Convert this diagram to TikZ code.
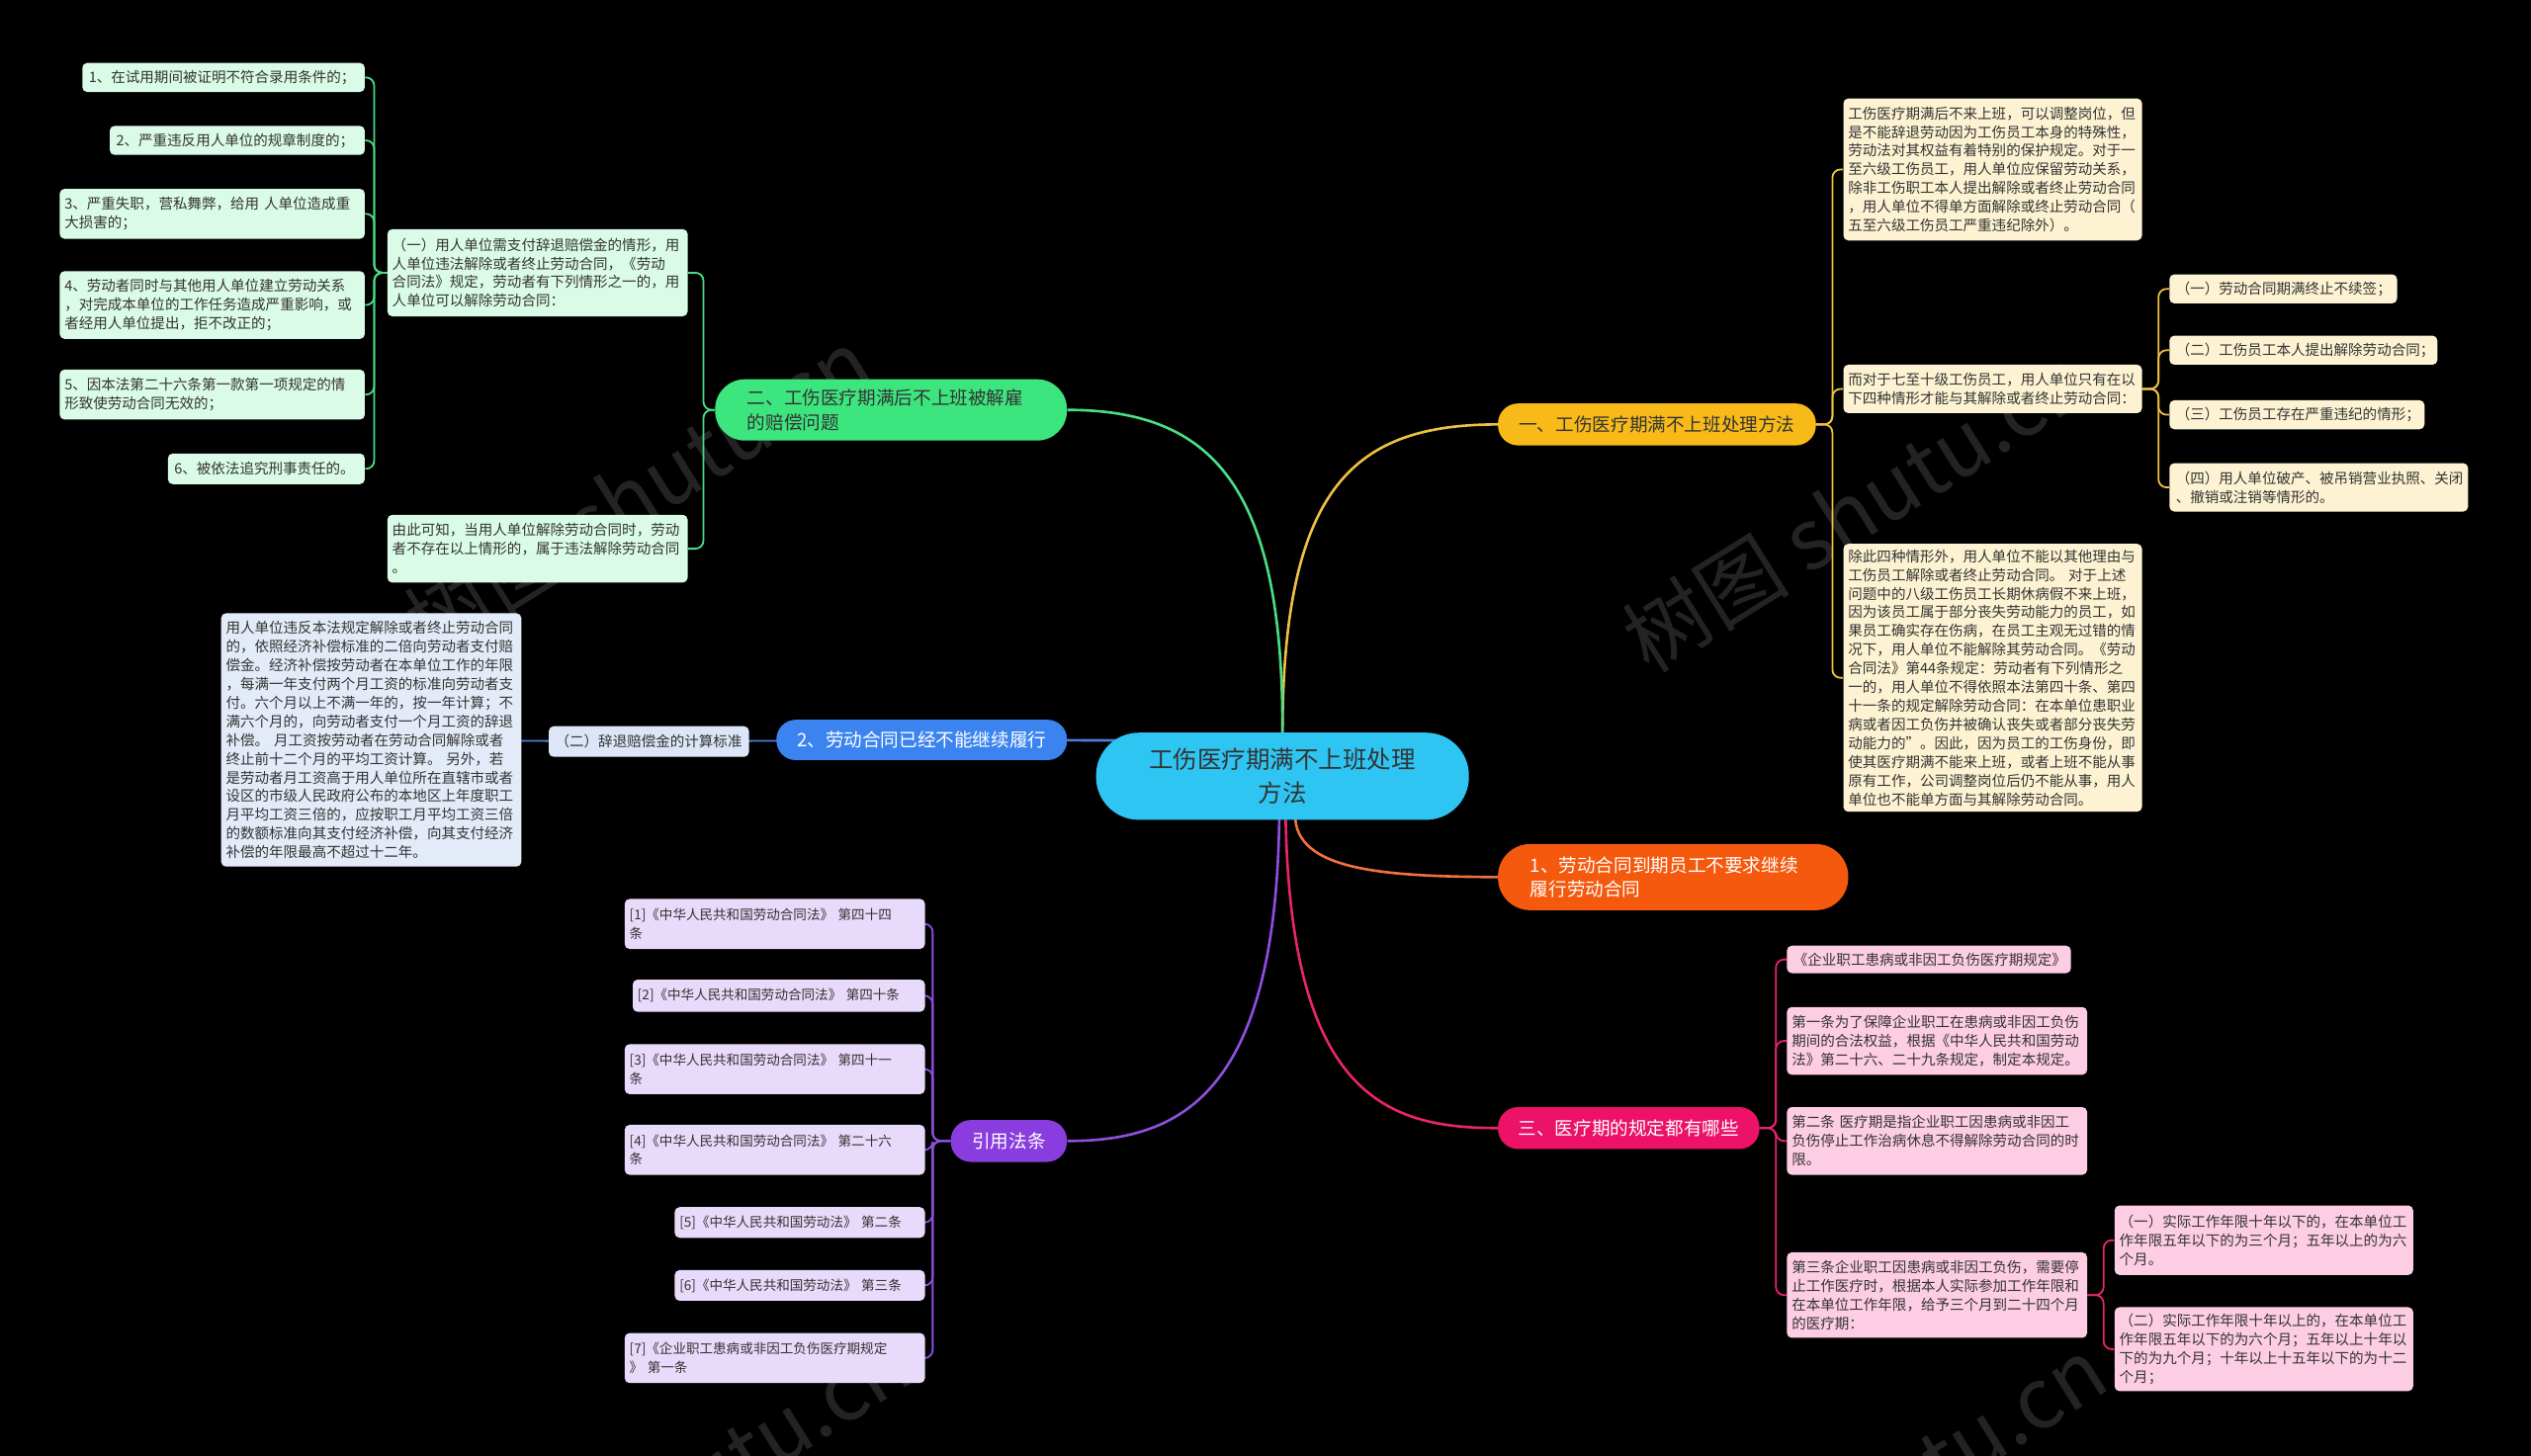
\documentclass[tikz,border=0pt]{standalone}
\usepackage{fontspec}
\setmainfont{Noto Sans CJK SC}
\usetikzlibrary{calc}
\pgfdeclarelayer{wm}
\pgfdeclarelayer{bg}
\pgfsetlayers{wm,bg,main}
\definecolor{cyanc}{HTML}{2EC5F2}
\definecolor{goldf}{HTML}{F7BA18}
\definecolor{goldl}{HTML}{EEC043}
\definecolor{cream}{HTML}{FDF3D2}
\definecolor{orgf}{HTML}{F5590D}
\definecolor{orgl}{HTML}{F07040}
\definecolor{pinkf}{HTML}{EB1268}
\definecolor{pinkl}{HTML}{E8246E}
\definecolor{pinkc}{HTML}{FDCDE3}
\definecolor{grnf}{HTML}{3DE57E}
\definecolor{grnl}{HTML}{49DE86}
\definecolor{grnc}{HTML}{DAFBE7}
\definecolor{bluf}{HTML}{3B84F0}
\definecolor{blul}{HTML}{4C7FE0}
\definecolor{bluc}{HTML}{DCE6F7}
\definecolor{blub}{HTML}{E4EBF8}
\definecolor{purf}{HTML}{8A3DDF}
\definecolor{purl}{HTML}{8E4FE0}
\definecolor{purc}{HTML}{E8DAFA}
\definecolor{txt}{HTML}{333333}
\definecolor{wmc}{HTML}{232323}
\newcommand\tbox[8]{%
  \pgfmathsetmacro\tbw{#4-#2}%
  \pgfmathsetmacro\tbh{#5-#3}%
  \pgfmathsetmacro\tbt{#4-#2-2*#6}%
  \pgfmathsetmacro\tbx{(#2+#4)/2}%
  \pgfmathsetmacro\tby{(#3+#5)/2}%
  \node[#7, inner xsep=#6pt, inner ysep=0pt, minimum width=\tbw pt, minimum height=\tbh pt, text width=\tbt pt] (#1) at (\tbx,\tby) {#8};}
\tikzset{
  leaf/.style={rounded corners=3pt, align=left, text=txt, font=\fontsize{8.9}{11.6}\selectfont},
  pleaf/.style={leaf, font=\fontsize{8.3}{11.6}\selectfont},
  mainn/.style={align=center, font=\fontsize{11.4}{15}\selectfont},
  conn/.style={line width=1.6pt},
  brk/.style={line width=1.1pt, rounded corners=5pt},
  wmark/.style={text=wmc, font=\fontsize{52}{60}\selectfont, rotate=32}
}
\begin{document}
\begin{tikzpicture}[x=1pt, y=-1pt]
\useasboundingbox (0,0) rectangle (1568,902);
\begin{pgfonlayer}{wm}
\fill[black] (0,0) rectangle (1568,902);
\node[wmark] (w1) at (395,305) {树图 shutu.cn};
\node[wmark] (w2) at (1150,315) {树图 shutu.cn};
\node[wmark] (w3) at (420,925) {树图 shutu.cn};
\node[wmark] (w4) at (1160,930) {树图 shutu.cn};
\end{pgfonlayer}

% center
\tbox{c}{679}{454}{910}{508}{6}{mainn, fill=cyanc, rounded corners=26.5pt, text=txt, font=\fontsize{15}{21}\selectfont}{工伤医疗期满不上班处理\\方法}

% ---- gold branch
\tbox{g1}{928}{250}{1125}{276}{6}{mainn, fill=goldf, rounded corners=12.5pt, text=txt}{一、工伤医疗期满不上班处理方法}
\tbox{ga}{1142}{61}{1327}{149}{3}{leaf, fill=cream}{工伤医疗期满后不来上班，可以调整岗位，但\\是不能辞退劳动因为工伤员工本身的特殊性，\\劳动法对其权益有着特别的保护规定。对于一\\至六级工伤员工，用人单位应保留劳动关系，\\除非工伤职工本人提出解除或者终止劳动合同\\，用人单位不得单方面解除或终止劳动合同（\\五至六级工伤员工严重违纪除外）。}
\tbox{gb}{1142}{226}{1327}{256}{3}{leaf, fill=cream}{而对于七至十级工伤员工，用人单位只有在以\\下四种情形才能与其解除或者终止劳动合同：}
\tbox{gc}{1142}{337}{1327}{503}{3}{leaf, fill=cream}{除此四种情形外，用人单位不能以其他理由与\\工伤员工解除或者终止劳动合同。~对于上述\\问题中的八级工伤员工长期休病假不来上班，\\因为该员工属于部分丧失劳动能力的员工，如\\果员工确实存在伤病，在员工主观无过错的情\\况下，用人单位不能解除其劳动合同。《劳动\\合同法》第44条规定：劳动者有下列情形之\\一的，用人单位不得依照本法第四十条、第四\\十一条的规定解除劳动合同：在本单位患职业\\病或者因工负伤并被确认丧失或者部分丧失劳\\动能力的”。因此，因为员工的工伤身份，即\\使其医疗期满不能来上班，或者上班不能从事\\原有工作，公司调整岗位后仍不能从事，用人\\单位也不能单方面与其解除劳动合同。}
\tbox{gb1}{1344}{170}{1485}{188}{4}{leaf, fill=cream}{（一）劳动合同期满终止不续签；}
\tbox{gb2}{1344}{208}{1510}{226}{4}{leaf, fill=cream}{（二）工伤员工本人提出解除劳动合同；}
\tbox{gb3}{1344}{248}{1502}{266}{4}{leaf, fill=cream}{（三）工伤员工存在严重违纪的情形；}
\tbox{gb4}{1344}{287}{1529}{317}{4}{leaf, fill=cream}{（四）用人单位破产、被吊销营业执照、关闭\\、撤销或注销等情形的。}

% ---- orange branch
\tbox{o}{928}{523}{1145}{564}{20}{mainn, align=left, fill=orgf, rounded corners=20pt, text=white}{1、劳动合同到期员工不要求继续\\履行劳动合同}

% ---- pink branch
\tbox{p}{928}{686}{1090}{712}{6}{mainn, fill=pinkf, rounded corners=12.5pt, text=white}{三、医疗期的规定都有哪些}
\tbox{p1}{1107}{586}{1283}{603}{4}{leaf, fill=pinkc}{《企业职工患病或非因工负伤医疗期规定》}
\tbox{p2}{1107}{624}{1293}{666}{3}{leaf, fill=pinkc}{第一条为了保障企业职工在患病或非因工负伤\\期间的合法权益，根据《中华人民共和国劳动\\法》第二十六、二十九条规定，制定本规定。}
\tbox{p3}{1107}{686}{1293}{728}{3}{leaf, fill=pinkc}{第二条~医疗期是指企业职工因患病或非因工\\负伤停止工作治病休息不得解除劳动合同的时\\限。}
\tbox{p4}{1107}{776}{1293}{829}{3}{leaf, fill=pinkc}{第三条企业职工因患病或非因工负伤，需要停\\止工作医疗时，根据本人实际参加工作年限和\\在本单位工作年限，给予三个月到二十四个月\\的医疗期：}
\tbox{p41}{1310}{747}{1495}{790}{3}{leaf, fill=pinkc}{（一）实际工作年限十年以下的，在本单位工\\作年限五年以下的为三个月；五年以上的为六\\个月。}
\tbox{p42}{1310}{810}{1495}{862}{3}{leaf, fill=pinkc}{（二）实际工作年限十年以上的，在本单位工\\作年限五年以下的为六个月；五年以上十年以\\下的为九个月；十年以上十五年以下的为十二\\个月；}

% ---- green branch
\tbox{n}{443}{235}{661}{273}{20}{mainn, align=left, fill=grnf, rounded corners=18.5pt, text=txt}{二、工伤医疗期满后不上班被解雇\\的赔偿问题}
\tbox{na}{240}{142}{426}{196}{3}{leaf, fill=grnc}{（一）用人单位需支付辞退赔偿金的情形，用\\人单位违法解除或者终止劳动合同，《劳动\\合同法》规定，劳动者有下列情形之一的，用\\人单位可以解除劳动合同：}
\tbox{nb}{240}{319}{426}{361}{3}{leaf, fill=grnc}{由此可知，当用人单位解除劳动合同时，劳动\\者不存在以上情形的，属于违法解除劳动合同\\。}
\tbox{na1}{51}{39}{226}{57}{4}{leaf, fill=grnc}{1、在试用期间被证明不符合录用条件的；}
\tbox{na2}{68}{78}{226}{96}{4}{leaf, fill=grnc}{2、严重违反用人单位的规章制度的；}
\tbox{na3}{37}{117}{226}{148}{3}{leaf, fill=grnc}{3、严重失职，营私舞弊，给用~人单位造成重\\大损害的；}
\tbox{na4}{37}{168}{226}{210}{3}{leaf, fill=grnc}{4、劳动者同时与其他用人单位建立劳动关系\\，对完成本单位的工作任务造成严重影响，或\\者经用人单位提出，拒不改正的；}
\tbox{na5}{37}{229}{226}{260}{3}{leaf, fill=grnc}{5、因本法第二十六条第一款第一项规定的情\\形致使劳动合同无效的；}
\tbox{na6}{104}{281}{226}{300}{4}{leaf, fill=grnc}{6、被依法追究刑事责任的。}

% ---- blue branch
\tbox{b}{481}{446}{661}{471}{6}{mainn, fill=bluf, rounded corners=12pt, text=white}{2、劳动合同已经不能继续履行}
\tbox{b1}{340}{450}{464}{469}{4}{leaf, fill=bluc}{（二）辞退赔偿金的计算标准}
\tbox{b2}{137}{380}{323}{537}{3}{leaf, fill=blub}{用人单位违反本法规定解除或者终止劳动合同\\的，依照经济补偿标准的二倍向劳动者支付赔\\偿金。经济补偿按劳动者在本单位工作的年限\\，每满一年支付两个月工资的标准向劳动者支\\付。六个月以上不满一年的，按一年计算；不\\满六个月的，向劳动者支付一个月工资的辞退\\补偿。~月工资按劳动者在劳动合同解除或者\\终止前十二个月的平均工资计算。~另外，若\\是劳动者月工资高于用人单位所在直辖市或者\\设区的市级人民政府公布的本地区上年度职工\\月平均工资三倍的，应按职工月平均工资三倍\\的数额标准向其支付经济补偿，向其支付经济\\补偿的年限最高不超过十二年。}

% ---- purple branch
\tbox{u}{589}{694}{661}{720}{6}{mainn, fill=purf, rounded corners=12.5pt, text=white}{引用法条}
\tbox{u1}{387}{557}{573}{588}{3}{pleaf, fill=purc}{[1]《中华人民共和国劳动合同法》~第四十四\\条}
\tbox{u2}{392}{607}{573}{627}{3}{pleaf, fill=purc}{[2]《中华人民共和国劳动合同法》~第四十条}
\tbox{u3}{387}{647}{573}{678}{3}{pleaf, fill=purc}{[3]《中华人民共和国劳动合同法》~第四十一\\条}
\tbox{u4}{387}{697}{573}{728}{3}{pleaf, fill=purc}{[4]《中华人民共和国劳动合同法》~第二十六\\条}
\tbox{u5}{418}{748}{573}{767}{3}{pleaf, fill=purc}{[5]《中华人民共和国劳动法》~第二条}
\tbox{u6}{418}{787}{573}{806}{3}{pleaf, fill=purc}{[6]《中华人民共和国劳动法》~第三条}
\tbox{u7}{387}{826}{573}{857}{3}{pleaf, fill=purc}{[7]《企业职工患病或非因工负伤医疗期规定\\》~第一条}

\begin{pgfonlayer}{bg}
% center connectors
\draw[conn, goldl] (c.center) -- (c.north) .. controls (795,300) and (840,263) .. (g1.west);
\draw[conn, grnl] (c.center) -- (c.north) .. controls (795,300) and (750,254) .. (n.east);
\draw[conn, orgl] ([xshift=8pt]c.center) -- ([xshift=8pt]c.south) .. controls (806,540) and (860,543) .. (o.west);
\draw[conn, pinkl] ([xshift=2pt]c.center) -- ([xshift=2pt]c.south) .. controls (800,680) and (860,699) .. (p.west);
\draw[conn, purl] ([xshift=-2pt]c.center) -- ([xshift=-2pt]c.south) .. controls (790,680) and (730,707) .. (u.east);
\draw[conn, blul] (b.center) -- ([yshift=22pt]c.center);
\draw[brk, blul] (b.center) -- (b1.center);
\draw[brk, blul] (b1.center) -- (b2.center);
% gold brackets
\foreach \k in {ga,gb,gc} \draw[brk, goldl] (g1.east) -- ++(10,0) |- (\k.west);
\foreach \k in {gb1,gb2,gb3,gb4} \draw[brk, goldl] (gb.east) -- ++(10,0) |- (\k.west);
% pink brackets
\foreach \k in {p1,p2,p3,p4} \draw[brk, pinkl] (p.east) -- ++(10,0) |- (\k.west);
\foreach \k in {p41,p42} \draw[brk, pinkl] (p4.east) -- ++(10,0) |- (\k.west);
% green brackets
\foreach \k in {na,nb} \draw[brk, grnl] (n.west) -- ++(-7,0) |- (\k.east);
\foreach \k in {na1,na2,na3,na4,na5,na6} \draw[brk, grnl] (na.west) -- ++(-8,0) |- (\k.east);
% purple brackets
\foreach \k in {u1,u2,u3,u4,u5,u6,u7} \draw[brk, purl] (u.west) -- ++(-11,0) |- (\k.east);
\end{pgfonlayer}
\end{tikzpicture}
\end{document}
